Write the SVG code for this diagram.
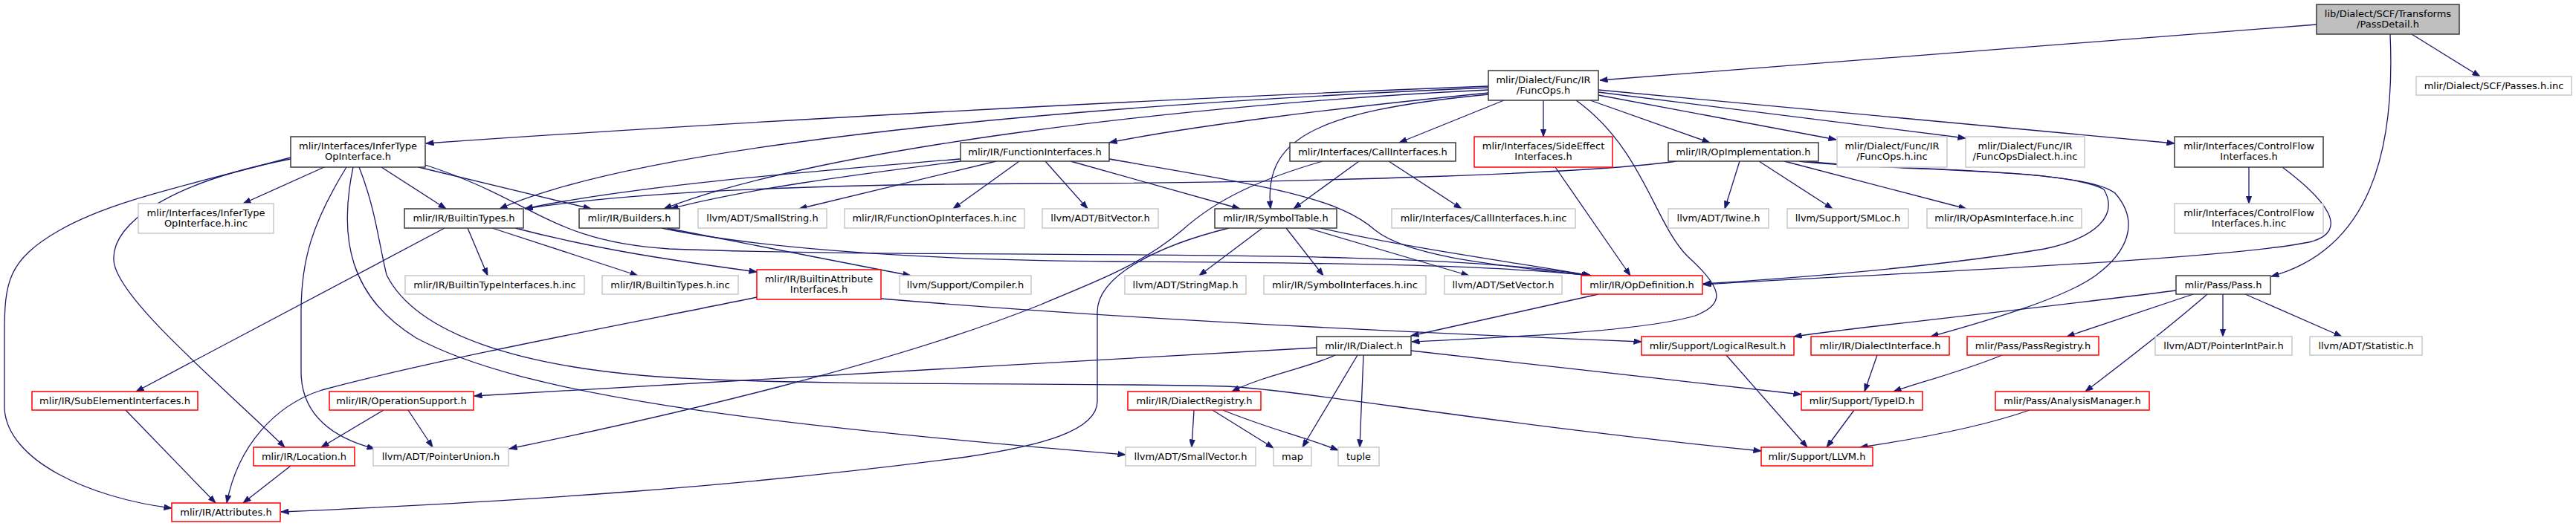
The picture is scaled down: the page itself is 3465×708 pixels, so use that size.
<svg xmlns="http://www.w3.org/2000/svg" width="3465" height="708" viewBox="0 0 3465 708">
<style>
rect{stroke-width:1.5}
.b rect{fill:#fff;stroke:#3a3a3a}
.g rect{fill:#fff;stroke:#c8c8c8}
.r rect{fill:#fff;stroke:#ff0000}
.root rect{fill:#bfbfbf;stroke:#3a3a3a}
text{font-family:"DejaVu Sans","Liberation Sans",sans-serif;font-size:13px;text-anchor:middle;fill:#000}
#edges path{fill:none;stroke:#191970;stroke-width:1.3;marker-end:url(#a)}
</style>
<defs>
<marker id="a" viewBox="0 0 11 8" refX="10.5" refY="4" markerWidth="11" markerHeight="8" orient="auto" markerUnits="userSpaceOnUse">
<path d="M0,0 L11,4 L0,8 z" fill="#191970" stroke="#191970" stroke-width="0.5"/>
</marker>
</defs>
<rect width="3465" height="708" fill="#fff"/>
<g id="edges">
<path d="M3116,33 L2152,108"/>
<path d="M3244,46 L3336,103"/>
<path d="M3215,46 C3222,200 3190,335 3055,372"/>
<path d="M2002,116 C1500,135 900,170 573,193"/>
<path d="M2002,118 C1600,135 900,180 672,281"/>
<path d="M2002,121 C1600,140 1100,200 893,281"/>
<path d="M2002,125 C1800,145 1600,170 1492,192"/>
<path d="M2003,127 C1760,150 1700,190 1709,281"/>
<path d="M2023,135 L1882,192"/>
<path d="M2076,135 L2076,184"/>
<path d="M2139,135 L2300,192"/>
<path d="M2150,128 L2470,188"/>
<path d="M2150,124 L2644,186"/>
<path d="M2150,121 L2925,193"/>
<path d="M2120,135 C2210,200 2225,300 2270,345 C2320,390 2320,410 2280,425 C2200,448 2000,455 1899,460"/>
<path d="M436,225 L327,274"/>
<path d="M513,225 L600,281"/>
<path d="M563,225 L795,281"/>
<path d="M572,222 C720,270 740,325 900,335 C1300,350 1900,330 2140,371"/>
<path d="M890,307 C1000,330 1200,350 1500,352 C1800,354 2000,356 2140,371"/>
<path d="M391,212 C250,250 150,270 80,310 C10,350 6,380 6,450 L6,550 C10,620 120,670 231,684"/>
<path d="M391,214 C230,245 150,300 153,350 C155,400 300,520 383,602"/>
<path d="M466,225 C420,300 405,350 405,420 L405,500 C405,560 450,590 504,604"/>
<path d="M475,225 C455,320 470,400 560,455 C700,530 1000,570 1514,612"/>
<path d="M483,225 C505,280 510,330 520,370 C560,450 700,495 900,508 C1100,520 1500,515 1650,520 C1750,525 2000,570 2369,607"/>
<path d="M629,307 L656,371"/>
<path d="M662,307 L858,371"/>
<path d="M693,307 C800,335 900,350 1018,366"/>
<path d="M598,307 L183,527"/>
<path d="M897,307 L1225,371"/>
<path d="M1292,214 C1100,230 850,250 706,281"/>
<path d="M1292,217 C1150,235 1000,255 902,281"/>
<path d="M1340,217 L1075,281"/>
<path d="M1371,217 L1282,281"/>
<path d="M1406,217 L1463,281"/>
<path d="M1440,217 L1668,281"/>
<path d="M1492,214 C1700,250 1800,265 1850,310 C1900,350 2050,360 2138,371"/>
<path d="M1698,307 L1613,371"/>
<path d="M1730,307 L1780,371"/>
<path d="M1759,307 L1976,371"/>
<path d="M1776,307 C1900,335 2050,355 2140,371"/>
<path d="M1653,307 C1560,330 1476,370 1476,420 L1476,540 C1476,580 1400,600 1300,615 C1000,655 700,675 378,689"/>
<path d="M1828,217 L1740,281"/>
<path d="M1868,217 L1966,281"/>
<path d="M1779,217 C1700,240 1640,265 1590,310 C1530,360 1470,380 1400,410 C1200,490 900,560 685,604"/>
<path d="M2092,225 L2193,371"/>
<path d="M2255,217 C2150,232 1800,246 1400,247 C1100,248 850,258 706,281"/>
<path d="M2340,217 L2320,281"/>
<path d="M2366,217 L2465,281"/>
<path d="M2400,217 L2645,281"/>
<path d="M2420,217 C2500,228 2780,225 2830,255 C2850,290 2820,320 2750,335 C2600,360 2400,375 2291,382"/>
<path d="M2430,217 C2550,232 2800,225 2845,260 C2880,300 2860,340 2820,370 C2780,400 2680,430 2597,453"/>
<path d="M3025,225 L3025,274"/>
<path d="M3070,225 C3130,270 3160,310 3110,325 C3000,350 2500,370 2291,383"/>
<path d="M2150,396 L1898,452"/>
<path d="M1018,400 C900,425 600,480 433,525 C370,545 320,600 305,677"/>
<path d="M1185,402 C1400,420 1700,440 2208,460"/>
<path d="M1771,468 C1400,490 900,515 638,533"/>
<path d="M1796,478 C1760,495 1700,505 1657,527"/>
<path d="M1898,472 L2423,531"/>
<path d="M1826,478 L1752,602"/>
<path d="M1834,478 L1829,602"/>
<path d="M1606,552 L1603,602"/>
<path d="M1631,552 L1713,603"/>
<path d="M1645,552 C1700,575 1760,590 1800,606"/>
<path d="M2927,391 C2700,420 2500,440 2413,453"/>
<path d="M2950,396 L2780,453"/>
<path d="M2969,396 C2930,430 2880,470 2805,527"/>
<path d="M2990,396 L2990,453"/>
<path d="M3020,396 L3150,453"/>
<path d="M169,552 L290,677"/>
<path d="M516,552 L432,602"/>
<path d="M549,552 L582,602"/>
<path d="M391,627 L327,677"/>
<path d="M2322,478 L2431,602"/>
<path d="M2525,478 L2508,527"/>
<path d="M2494,552 L2457,602"/>
<path d="M2693,478 C2640,500 2580,515 2547,527"/>
<path d="M2730,552 C2650,580 2550,595 2502,602"/>
</g>
<g id="n1" class="root"><rect x="3116" y="6" width="192" height="40"/><text x="3212" y="22.5">lib/Dialect/SCF/Transforms</text><text x="3212" y="37">/PassDetail.h</text></g>
<g id="n2" class="b"><rect x="2002" y="95" width="148" height="40"/><text x="2076" y="111.5">mlir/Dialect/Func/IR</text><text x="2076" y="126">/FuncOps.h</text></g>
<g id="n3" class="g"><rect x="3250" y="103" width="209" height="25"/><text x="3354.5" y="120">mlir/Dialect/SCF/Passes.h.inc</text></g>
<g id="n4" class="b"><rect x="391" y="184" width="181" height="41"/><text x="481.5" y="200.5">mlir/Interfaces/InferType</text><text x="481.5" y="215">OpInterface.h</text></g>
<g id="n5" class="b"><rect x="1292" y="192" width="200" height="25"/><text x="1392" y="209">mlir/IR/FunctionInterfaces.h</text></g>
<g id="n6" class="b"><rect x="1735" y="192" width="223" height="25"/><text x="1846.5" y="209">mlir/Interfaces/CallInterfaces.h</text></g>
<g id="n7" class="r"><rect x="1983" y="184" width="186" height="41"/><text x="2076" y="200.5">mlir/Interfaces/SideEffect</text><text x="2076" y="215">Interfaces.h</text></g>
<g id="n8" class="b"><rect x="2244" y="192" width="202" height="25"/><text x="2345" y="209">mlir/IR/OpImplementation.h</text></g>
<g id="n9" class="g"><rect x="2471" y="184" width="148" height="41"/><text x="2545" y="200.5">mlir/Dialect/Func/IR</text><text x="2545" y="215">/FuncOps.h.inc</text></g>
<g id="n10" class="g"><rect x="2644" y="184" width="160" height="41"/><text x="2724" y="200.5">mlir/Dialect/Func/IR</text><text x="2724" y="215">/FuncOpsDialect.h.inc</text></g>
<g id="n11" class="b"><rect x="2925" y="184" width="200" height="41"/><text x="3025" y="200.5">mlir/Interfaces/ControlFlow</text><text x="3025" y="215">Interfaces.h</text></g>
<g id="n12" class="g"><rect x="186" y="274" width="182" height="40"/><text x="277" y="290.5">mlir/Interfaces/InferType</text><text x="277" y="305">OpInterface.h.inc</text></g>
<g id="n13" class="b"><rect x="544" y="281" width="160" height="26"/><text x="624" y="298">mlir/IR/BuiltinTypes.h</text></g>
<g id="n14" class="b"><rect x="779" y="281" width="135" height="26"/><text x="846.5" y="298">mlir/IR/Builders.h</text></g>
<g id="n15" class="g"><rect x="939" y="281" width="173" height="26"/><text x="1025.5" y="298">llvm/ADT/SmallString.h</text></g>
<g id="n16" class="g"><rect x="1136" y="281" width="242" height="26"/><text x="1257" y="298">mlir/IR/FunctionOpInterfaces.h.inc</text></g>
<g id="n17" class="g"><rect x="1402" y="281" width="156" height="26"/><text x="1480" y="298">llvm/ADT/BitVector.h</text></g>
<g id="n18" class="b"><rect x="1634" y="281" width="164" height="26"/><text x="1716" y="298">mlir/IR/SymbolTable.h</text></g>
<g id="n19" class="g"><rect x="1872" y="281" width="247" height="26"/><text x="1995.5" y="298">mlir/Interfaces/CallInterfaces.h.inc</text></g>
<g id="n20" class="g"><rect x="2244" y="281" width="135" height="26"/><text x="2311.5" y="298">llvm/ADT/Twine.h</text></g>
<g id="n21" class="g"><rect x="2404" y="281" width="163" height="26"/><text x="2485.5" y="298">llvm/Support/SMLoc.h</text></g>
<g id="n22" class="g"><rect x="2592" y="281" width="208" height="26"/><text x="2696" y="298">mlir/IR/OpAsmInterface.h.inc</text></g>
<g id="n23" class="g"><rect x="2925" y="274" width="200" height="40"/><text x="3025" y="290.5">mlir/Interfaces/ControlFlow</text><text x="3025" y="305">Interfaces.h.inc</text></g>
<g id="n24" class="g"><rect x="545" y="371" width="241" height="25"/><text x="665.5" y="388">mlir/IR/BuiltinTypeInterfaces.h.inc</text></g>
<g id="n25" class="g"><rect x="810" y="371" width="183" height="25"/><text x="901.5" y="388">mlir/IR/BuiltinTypes.h.inc</text></g>
<g id="n26" class="r"><rect x="1018" y="363" width="167" height="40"/><text x="1101.5" y="379.5">mlir/IR/BuiltinAttribute</text><text x="1101.5" y="394">Interfaces.h</text></g>
<g id="n27" class="g"><rect x="1210" y="371" width="177" height="25"/><text x="1298.5" y="388">llvm/Support/Compiler.h</text></g>
<g id="n28" class="g"><rect x="1513" y="371" width="163" height="25"/><text x="1594.5" y="388">llvm/ADT/StringMap.h</text></g>
<g id="n29" class="g"><rect x="1700" y="371" width="218" height="25"/><text x="1809" y="388">mlir/IR/SymbolInterfaces.h.inc</text></g>
<g id="n30" class="g"><rect x="1943" y="371" width="158" height="25"/><text x="2022" y="388">llvm/ADT/SetVector.h</text></g>
<g id="n31" class="r"><rect x="2127" y="371" width="163" height="25"/><text x="2208.5" y="388">mlir/IR/OpDefinition.h</text></g>
<g id="n32" class="b"><rect x="2927" y="371" width="127" height="25"/><text x="2990.5" y="388">mlir/Pass/Pass.h</text></g>
<g id="n33" class="b"><rect x="1771" y="453" width="127" height="25"/><text x="1834.5" y="470">mlir/IR/Dialect.h</text></g>
<g id="n34" class="r"><rect x="2208" y="453" width="205" height="25"/><text x="2310.5" y="470">mlir/Support/LogicalResult.h</text></g>
<g id="n35" class="r"><rect x="2436" y="453" width="186" height="25"/><text x="2529" y="470">mlir/IR/DialectInterface.h</text></g>
<g id="n36" class="r"><rect x="2646" y="453" width="177" height="25"/><text x="2734.5" y="470">mlir/Pass/PassRegistry.h</text></g>
<g id="n37" class="g"><rect x="2899" y="453" width="184" height="25"/><text x="2991" y="470">llvm/ADT/PointerIntPair.h</text></g>
<g id="n38" class="g"><rect x="3107" y="453" width="151" height="25"/><text x="3182.5" y="470">llvm/ADT/Statistic.h</text></g>
<g id="n39" class="r"><rect x="43" y="527" width="223" height="25"/><text x="154.5" y="544">mlir/IR/SubElementInterfaces.h</text></g>
<g id="n40" class="r"><rect x="443" y="527" width="194" height="25"/><text x="540" y="544">mlir/IR/OperationSupport.h</text></g>
<g id="n41" class="r"><rect x="1517" y="527" width="179" height="25"/><text x="1606.5" y="544">mlir/IR/DialectRegistry.h</text></g>
<g id="n42" class="r"><rect x="2423" y="527" width="163" height="25"/><text x="2504.5" y="544">mlir/Support/TypeID.h</text></g>
<g id="n43" class="r"><rect x="2684" y="527" width="207" height="25"/><text x="2787.5" y="544">mlir/Pass/AnalysisManager.h</text></g>
<g id="n44" class="r"><rect x="341" y="602" width="136" height="25"/><text x="409" y="619">mlir/IR/Location.h</text></g>
<g id="n45" class="g"><rect x="502" y="602" width="182" height="25"/><text x="593" y="619">llvm/ADT/PointerUnion.h</text></g>
<g id="n46" class="g"><rect x="1514" y="602" width="175" height="25"/><text x="1601.5" y="619">llvm/ADT/SmallVector.h</text></g>
<g id="n47" class="g"><rect x="1713" y="602" width="51" height="25"/><text x="1738.5" y="619">map</text></g>
<g id="n48" class="g"><rect x="1800" y="602" width="55" height="25"/><text x="1827.5" y="619">tuple</text></g>
<g id="n49" class="r"><rect x="2369" y="602" width="150" height="25"/><text x="2444" y="619">mlir/Support/LLVM.h</text></g>
<g id="n50" class="r"><rect x="231" y="677" width="146" height="25"/><text x="304" y="694">mlir/IR/Attributes.h</text></g>
</svg>
